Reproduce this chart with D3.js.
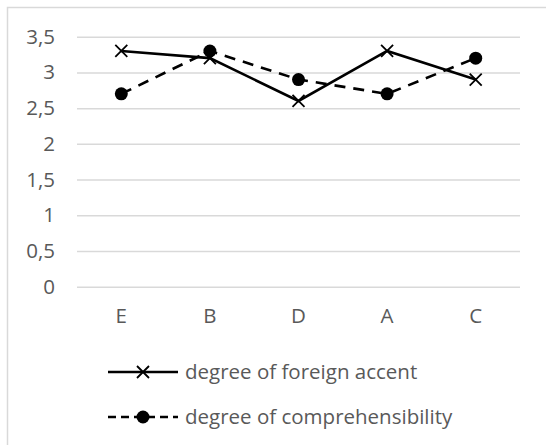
<!DOCTYPE html>
<html><head><meta charset="utf-8">
<script src="https://cdn.jsdelivr.net/npm/d3@7"></script>
<style>body{margin:0;background:#fff}svg{display:block}text{font-family:"Open Sans",sans-serif;fill:#595959}</style>
</head><body>
<script>
const categories = ["E","B","D","A","C"];
const accent = [3.3,3.2,2.6,3.3,2.9];
const comprehensibility = [2.7,3.3,2.9,2.7,3.2];
const yTicks = [0,0.5,1,1.5,2,2.5,3,3.5];
const seriesNames = ["degree of foreign accent","degree of comprehensibility"];

const W=546,H=445,FS=20.5;
const svg=d3.select("body").append("svg").attr("width",W).attr("height",H);
svg.append("rect").attr("x",7.5).attr("y",7.5).attr("width",W+20).attr("height",H+20)
  .attr("fill","none").attr("stroke","#d9d9d9").attr("stroke-width",1.5);

const x=d3.scaleBand().domain(categories).range([77,520]);
const y=d3.scaleLinear().domain([0,3.5]).range([286.7,36.7]);
const fmt=d=>String(d).replace(".",",");

const gy=svg.append("g").attr("transform","translate(77,0)")
  .call(d3.axisLeft(y).tickValues(yTicks).tickFormat(fmt).tickSize(-(520-77)).tickPadding(22));
gy.select(".domain").remove();
gy.selectAll(".tick line").attr("stroke","#d9d9d9").attr("stroke-width",1.5);
gy.selectAll(".tick text").attr("font-size",FS).attr("fill","#595959").style("font-family","'Open Sans',sans-serif");

const gx=svg.append("g").attr("transform","translate(0,286.7)")
  .call(d3.axisBottom(x).tickSize(0).tickPadding(22));
gx.select(".domain").remove();
gx.selectAll(".tick text").attr("font-size",FS).attr("fill","#595959").style("font-family","'Open Sans',sans-serif");

const line=d3.line().x((d,i)=>x(categories[i])+x.bandwidth()/2).y(d=>y(d));
svg.append("path").datum(comprehensibility).attr("d",line).attr("fill","none")
  .attr("stroke","#000").attr("stroke-width",2.6).attr("stroke-dasharray","11,8");
svg.append("path").datum(accent).attr("d",line).attr("fill","none")
  .attr("stroke","#000").attr("stroke-width",2.6);

function cross(g,cx,cy,s){
  g.append("path").attr("d",`M${cx-s},${cy-s}L${cx+s},${cy+s}M${cx-s},${cy+s}L${cx+s},${cy-s}`)
   .attr("stroke","#000").attr("stroke-width",1.8).attr("fill","none");
}
const mk=svg.append("g");
accent.forEach((v,i)=>cross(mk,x(categories[i])+x.bandwidth()/2,y(v),6));
comprehensibility.forEach((v,i)=>mk.append("circle").attr("cx",x(categories[i])+x.bandwidth()/2).attr("cy",y(v)).attr("r",6.5).attr("fill","#000"));

const lg=svg.append("g");
lg.append("line").attr("x1",108).attr("x2",178).attr("y1",372).attr("y2",372).attr("stroke","#000").attr("stroke-width",2.6);
cross(lg,143,372,6);
lg.append("text").attr("x",185).attr("y",372).attr("dy","0.35em").attr("font-size",FS).text(seriesNames[0]);
lg.append("line").attr("x1",108).attr("x2",178).attr("y1",417).attr("y2",417).attr("stroke","#000").attr("stroke-width",2.6).attr("stroke-dasharray","8,5");
lg.append("circle").attr("cx",143).attr("cy",417).attr("r",6.5).attr("fill","#000");
lg.append("text").attr("x",185).attr("y",417).attr("dy","0.35em").attr("font-size",FS).text(seriesNames[1]);
</script>
</body></html>
